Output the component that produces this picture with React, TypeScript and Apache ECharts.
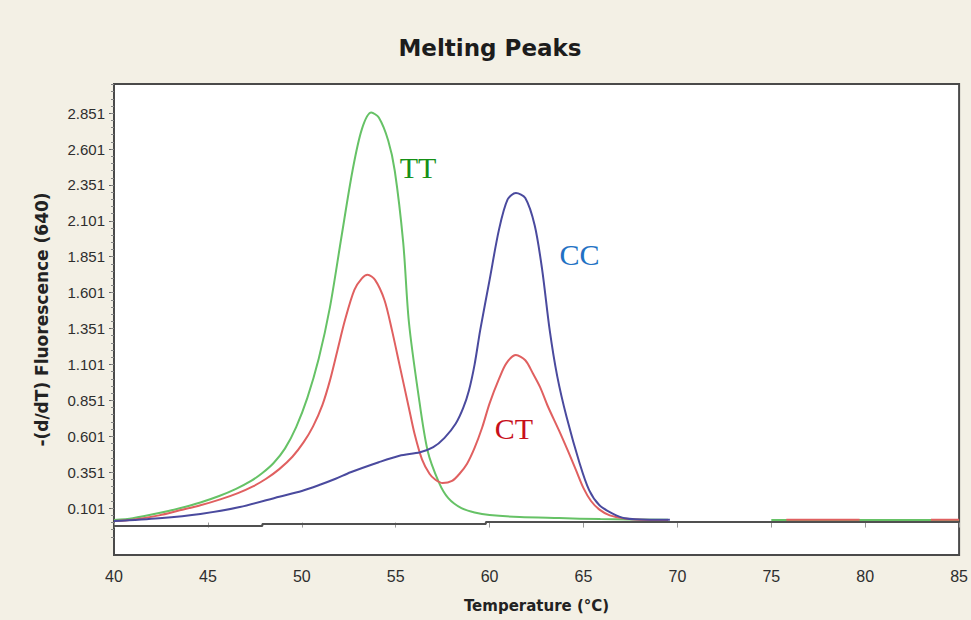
import React, { useEffect, useRef } from "react";
import * as echarts from "echarts";

// Temperature (°C) vs -(d/dT) Fluorescence (640)
const ttData: (number | string)[][] = [
  [40, 0.017], [41, 0.03], [42.4, 0.066], [43.5, 0.1], [44.6, 0.14], [45.6, 0.185], [46.5, 0.235],
  [47.3, 0.29], [47.9, 0.345], [48.5, 0.415], [49.1, 0.515], [49.7, 0.665], [50.3, 0.87], [50.9, 1.14],
  [51.5, 1.5], [52.1, 1.98], [52.7, 2.45], [53.2, 2.74], [53.7, 2.855], [54.1, 2.82], [54.6, 2.66],
  [54.95, 2.45], [55.4, 1.95], [55.7, 1.4], [56.2, 0.9], [56.7, 0.5], [57.3, 0.28], [57.8, 0.17],
  [58.5, 0.1], [59.2, 0.07], [60, 0.052], [61.6, 0.038], [63.7, 0.031], [65.9, 0.024], [69.5, 0.02],
  [72, "-"], [75, 0.018], [85, 0.018],
];

const ctData: (number | string)[][] = [
  [40, 0.01], [41, 0.02], [42.4, 0.05], [43.5, 0.085], [44.6, 0.12], [45.7, 0.163], [46.6, 0.205],
  [47.4, 0.252], [48.1, 0.305], [48.8, 0.372], [49.5, 0.458], [50.1, 0.56], [50.6, 0.67], [51.1, 0.82],
  [51.5, 0.99], [51.9, 1.2], [52.3, 1.41], [52.8, 1.62], [53.2, 1.7], [53.5, 1.725], [53.9, 1.69],
  [54.4, 1.55], [54.8, 1.34], [55.2, 1.1], [55.7, 0.8], [56.0, 0.62], [56.4, 0.44], [56.8, 0.34],
  [57.1, 0.3], [57.5, 0.275], [58.0, 0.29], [58.4, 0.34], [58.8, 0.41], [59.2, 0.52], [59.6, 0.66],
  [60.0, 0.83], [60.5, 1.0], [60.9, 1.11], [61.4, 1.166], [61.9, 1.13], [62.3, 1.04], [62.7, 0.94],
  [63.1, 0.81], [63.7, 0.64], [64.2, 0.49], [64.6, 0.365], [65.0, 0.24], [65.4, 0.15], [65.85, 0.09],
  [66.4, 0.05], [67.2, 0.028], [68, 0.02], [69.5, 0.018], [72, "-"], [75.8, 0.02], [79.7, 0.02],
  [81, "-"], [83.5, 0.02], [85, 0.02],
];

const ccData: (number | string)[][] = [
  [40, 0.01], [42.4, 0.03], [44.6, 0.06], [46.7, 0.108], [48.8, 0.18], [50.0, 0.22], [51.0, 0.265],
  [51.8, 0.305], [52.6, 0.35], [54.1, 0.42], [55.2, 0.465], [56.3, 0.49], [57.0, 0.525], [57.6, 0.59],
  [58.2, 0.69], [58.6, 0.8], [58.9, 0.92], [59.2, 1.1], [59.5, 1.34], [60.0, 1.69], [60.5, 2.04],
  [60.96, 2.25], [61.4, 2.295], [61.9, 2.26], [62.4, 2.07], [62.8, 1.76], [63.2, 1.34], [63.6, 1.02],
  [64.1, 0.735], [64.8, 0.41], [65.3, 0.226], [65.85, 0.12], [66.5, 0.066], [67.2, 0.03], [68.5, 0.02],
  [69.6, 0.02],
];

const baselineData: number[][] = [
  [40, -0.024], [47.9, -0.024], [47.9, -0.01], [59.8, -0.01], [59.8, 0.003], [85, 0.003],
];

const yTickValues = [0.101, 0.351, 0.601, 0.851, 1.101, 1.351, 1.601, 1.851, 2.101, 2.351, 2.601, 2.851];
const yMinorTickValues: number[] = [];
for (let i = -4; i <= 59; i++) yMinorTickValues.push(Math.round((0.101 + i * 0.05) * 1000) / 1000);

const curveLabels = [
  { text: "TT", t: 55.21, v: 2.475, color: "#169016" },
  { text: "CC", t: 63.72, v: 1.87, color: "#2271c4" },
  { text: "CT", t: 60.27, v: 0.658, color: "#c8101a" },
];

export default function App() {
  const ref = useRef<HTMLDivElement>(null);
  useEffect(() => {
    if (!ref.current) return;
    const chart = echarts.init(ref.current, null, { renderer: "svg" });
    const tickFont = { fontFamily: "Liberation Sans", color: "#2e2e2e" };
    chart.setOption({
      animation: false,
      backgroundColor: "#f3f0e5",
      grid: {
        left: 114, top: 84, right: 11, bottom: 65,
        show: true, backgroundColor: "#ffffff", borderColor: "#4a4a4a", borderWidth: 2,
      },
      xAxis: {
        type: "value", min: 40, max: 85, interval: 5,
        name: "Temperature (°C)", nameLocation: "middle", nameGap: 43,
        nameTextStyle: { fontFamily: "DejaVu Sans", fontWeight: "bold", fontSize: 15, color: "#222" },
        axisLine: { show: false },
        axisTick: { show: true, inside: false, length: 5, lineStyle: { color: "#999" } },
        axisLabel: { ...tickFont, fontSize: 16, margin: 13 },
        splitLine: { show: false },
      },
      yAxis: [
        {
          type: "value", min: -0.226, max: 3.054,
          name: "-(d/dT) Fluorescence (640)", nameLocation: "middle", nameGap: 64, nameRotate: 90,
          nameTextStyle: { fontFamily: "DejaVu Sans", fontWeight: "bold", fontSize: 17, color: "#222" },
          axisLine: { show: false },
          axisTick: { show: true, length: 5, customValues: yTickValues, lineStyle: { color: "#666" } },
          axisLabel: { ...tickFont, fontSize: 15, margin: 9, customValues: yTickValues, formatter: (v: number) => v.toFixed(3) },
          splitLine: { show: false },
        },
        {
          type: "value", min: -0.226, max: 3.054, position: "left",
          axisLine: { show: false },
          axisTick: { show: true, length: 3, customValues: yMinorTickValues, lineStyle: { color: "#888" } },
          axisLabel: { show: false },
          splitLine: { show: false },
        },
      ],
      series: [
        { type: "line", name: "baseline", data: baselineData, showSymbol: false, lineStyle: { color: "#505050", width: 2 }, silent: true },
        { type: "line", name: "TT", data: ttData, showSymbol: false, smooth: 0.3, connectNulls: false, lineStyle: { color: "#66c266", width: 2 } },
        { type: "line", name: "CT", data: ctData, showSymbol: false, smooth: 0.3, connectNulls: false, lineStyle: { color: "#e06060", width: 2 } },
        { type: "line", name: "CC", data: ccData, showSymbol: false, smooth: 0.3, lineStyle: { color: "#4a4a9e", width: 2 } },
      ],
    });
    const graphics: any[] = [
      {
        type: "text", x: 490, y: 48,
        style: { text: "Melting Peaks", font: "bold 23px 'DejaVu Sans'", fill: "#1c1c1c", textAlign: "center", textVerticalAlign: "middle" },
      },
    ];
    curveLabels.forEach((l) => {
      const p = chart.convertToPixel({ gridIndex: 0 } as any, [l.t, l.v]) as number[];
      graphics.push({
        type: "text", x: p[0], y: p[1],
        style: { text: l.text, font: "30px 'Liberation Serif'", fill: l.color, textAlign: "left", textVerticalAlign: "middle" },
      });
    });
    chart.setOption({ graphic: graphics });
    return () => chart.dispose();
  }, []);
  return <div ref={ref} style={{ position: "fixed", left: 0, top: 0, width: 971, height: 620 }} />;
}
